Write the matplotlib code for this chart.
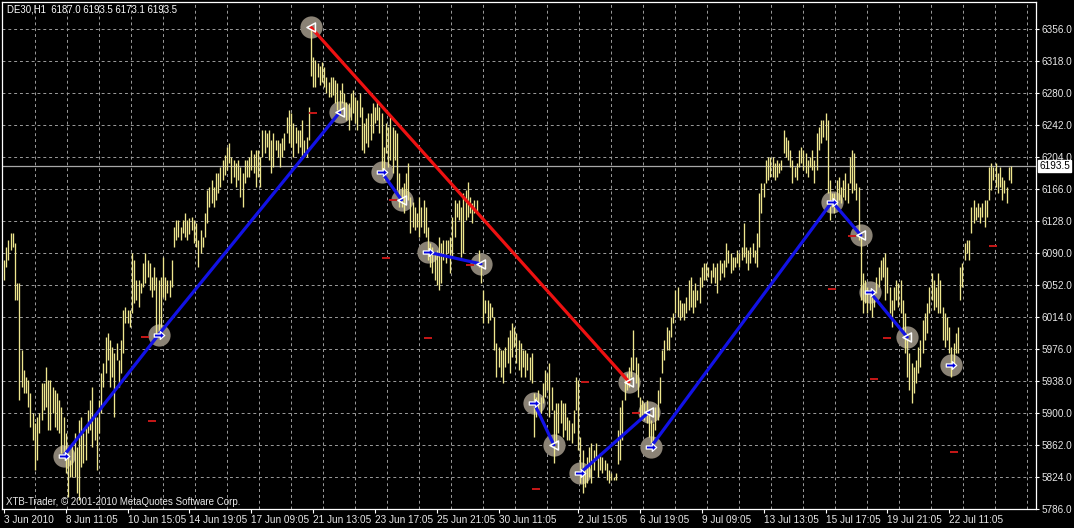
import numpy as np
import matplotlib
matplotlib.use("Agg")
import matplotlib.pyplot as plt
from matplotlib.path import Path

# ---- chart header / footer text ----
symbol_line = "DE30,H1  6187.0 6193.5 6173.1 6193.5"
copyright_line = "XTB-Trader, \u00a9 2001-2010 MetaQuotes Software Corp."
last_price = 6193.5

# ---- hourly bars (high / low) ----
highs = [
    6082, 6097, 6105, 6114, 6114, 6102, 6054, 6054, 5975,
    5951, 5943, 5939, 5924, 5900, 5888, 5895, 5900, 5936, 5936,
    5955, 5939, 5939, 5931, 5927, 5924, 5915, 5907, 5895, 5876,
    5853, 5844, 5864, 5876, 5860, 5892, 5895, 5876, 5883, 5904,
    5915, 5931, 5900, 5895, 5915, 5948, 5959, 5990, 5995, 5987,
    5978, 5971, 5983, 5963, 5987, 6022, 6026, 6022, 6022, 6090,
    6082, 6058, 6058, 6054, 6078, 6090, 6082, 6078, 6062, 6073,
    6062, 6058, 6062, 6085, 6062, 6058, 6058, 6082, 6121, 6129,
    6129, 6121, 6129, 6138, 6129, 6131,
    6133, 6129, 6126, 6105, 6117,
    6109, 6138, 6165, 6168, 6177, 6168, 6185, 6185, 6192, 6200, 6206,
    6216, 6221, 6204, 6200, 6197, 6200, 6192, 6185, 6200, 6200,
    6204, 6212, 6208,
    6212, 6212, 6204, 6236, 6236, 6233, 6236, 6224,
    6233, 6224, 6224, 6221, 6226,
    6233, 6252, 6260, 6256, 6244, 6240,
    6236, 6236, 6248, 6224, 6228, 6263, 6358, 6323, 6319, 6316, 6312,
    6317, 6311, 6299, 6293, 6299, 6299, 6295, 6292, 6284, 6292,
    6280, 6269, 6268, 6280, 6284, 6275, 6272, 6280, 6263, 6244, 6250,
    6256, 6256, 6268, 6263, 6272, 6263, 6256, 6216, 6244, 6240,
    6252, 6240, 6236, 6233, 6185, 6168, 6173, 6185, 6197, 6157, 6150,
    6145, 6138, 6157, 6145, 6153, 6145, 6121, 6102, 6097, 6090,
    6094, 6109, 6102, 6105, 6105, 6105, 6109, 6133, 6153, 6149,
    6153, 6145, 6161, 6165, 6174, 6157, 6149, 6153, 6153, 6094,
    6078, 6046, 6034, 6034, 6031, 6026, 6014, 5983, 5978, 5975,
    5975, 5978, 5990, 5999, 6007, 6002, 5995, 5987, 5983, 5975,
    5975, 5971, 5967, 5971, 5924, 5919, 5927, 5919, 5936, 5951,
    5948, 5959, 5931, 5904, 5912, 5912, 5915, 5912, 5912, 5895,
    5892, 5888, 5904, 5943, 5939, 5872, 5856, 5836, 5848, 5860,
    5864, 5856, 5864, 5848, 5852, 5848, 5844, 5841, 5832, 5829,
    5824, 5829, 5880, 5907, 5915, 5943, 5948, 5955, 5967, 5999,
    5967, 5959, 5919, 5915, 5912, 5915, 5904, 5892, 5888, 5907,
    5927, 5943, 5975, 5987, 6002, 5999, 6014, 6019, 6046,
    6050, 6034, 6031, 6031, 6038, 6058, 6062, 6046, 6054, 6046, 6062,
    6073, 6078, 6078, 6073, 6070, 6078, 6073, 6078, 6082, 6078, 6082,
    6102, 6094, 6090, 6085, 6085, 6094, 6090, 6097, 6126, 6097, 6094,
    6097, 6102, 6094, 6114, 6161, 6173, 6173, 6200, 6204, 6204, 6204,
    6197, 6200, 6197, 6200, 6236, 6228, 6224, 6212, 6200, 6192, 6197,
    6212, 6216, 6212, 6209, 6200, 6204, 6212, 6200, 6233, 6240,
    6248, 6248, 6256, 6248, 6177, 6161, 6161, 6177, 6180, 6168,
    6177, 6185, 6173, 6204, 6212, 6209, 6173, 6168, 6114, 6066,
    6058, 6050, 6046, 6043, 6046, 6062, 6073, 6082, 6085, 6090,
    6073, 6050, 6034, 6050, 6058, 6054, 6058, 6034, 6019, 5995,
    5971, 5959, 5955, 5963, 5978, 5987, 6010, 6019, 6031, 6050,
    6066, 6058, 6050, 6066, 6058, 6026, 6019, 6014, 6002, 5978,
    5983, 5995, 6002, 6073, 6078, 6102, 6105, 6105, 6145, 6153,
    6145, 6149, 6145, 6149, 6153, 6153, 6192, 6197, 6192, 6197,
    6185, 6192, 6180, 6177, 6168, 6192, 6193.5,
]
lows = [
    6058, 6073, 6082, 6094, 6097, 6034, 6034, 5915, 5931,
    5924, 5924, 5907, 5883, 5868, 5832, 5844, 5876, 5892, 5904,
    5907, 5880, 5880, 5900, 5883, 5880, 5876, 5853, 5848, 5829,
    5800, 5824, 5824, 5824, 5805, 5797, 5836, 5841, 5844, 5876,
    5880, 5860, 5868, 5832, 5876, 5900, 5931, 5948, 5963, 5931,
    5943, 5895, 5963, 5931, 5948, 5971, 6007, 6007, 6002, 6019,
    6031, 6034, 6026, 6043, 6050, 6054, 6062, 6046, 6038, 6046,
    5990, 5995, 6002, 6038, 6034, 6043, 6038, 6050, 6097, 6105,
    6109, 6105, 6114, 6109, 6105, 6112,
    6117, 6102, 6097, 6073, 6090,
    6097, 6109, 6126, 6145, 6149, 6145, 6153, 6161, 6168, 6177, 6183,
    6189, 6197, 6173, 6180, 6168, 6177, 6157, 6145, 6173, 6180,
    6180, 6189, 6185,
    6168, 6180, 6168, 6204, 6209, 6216, 6200, 6185,
    6192, 6212, 6204, 6192, 6204,
    6212, 6233, 6221, 6216, 6204, 6221,
    6209, 6216, 6204, 6209, 6204, 6224, 6300, 6287, 6287, 6299, 6290,
    6293, 6287, 6280, 6275, 6275, 6278, 6268, 6260, 6256, 6268,
    6260, 6248, 6236, 6248, 6256, 6244, 6236, 6252, 6212, 6209, 6220,
    6216, 6224, 6233, 6244, 6248, 6233, 6183, 6177, 6209, 6192,
    6200, 6185, 6200, 6165, 6145, 6145, 6138, 6153, 6153, 6114, 6121,
    6117, 6121, 6109, 6121, 6114, 6109, 6082, 6073, 6066, 6058,
    6052, 6046, 6054, 6082, 6078, 6090, 6066, 6085, 6109, 6133,
    6129, 6085, 6090, 6129, 6133, 6138, 6126, 6138, 6138, 6073,
    6054, 6007, 6019, 6007, 6010, 6014, 5975, 5943, 5955, 5943,
    5936, 5955, 5959, 5948, 5967, 5978, 5959, 5951, 5943, 5955,
    5943, 5951, 5939, 5936, 5872, 5895, 5904, 5900, 5912, 5919,
    5927, 5895, 5904, 5841, 5864, 5876, 5888, 5872, 5880, 5868,
    5868, 5864, 5876, 5904, 5856, 5817, 5805, 5812, 5817, 5824,
    5817, 5832, 5844, 5824, 5832, 5829, 5832, 5820, 5817, 5820,
    5820, 5820, 5840, 5844, 5868, 5915, 5927, 5931, 5943, 5951,
    5936, 5919, 5895, 5898, 5892, 5888, 5872, 5858, 5860, 5880,
    5892, 5912, 5948, 5963, 5975, 5975, 5990, 6007, 6019,
    6014, 6010, 6014, 6010, 6019, 6022, 6026, 6019, 6026, 6034, 6031,
    6050, 6058, 6058, 6062, 6054, 6062, 6054, 6043, 6058, 6066, 6062,
    6073, 6078, 6066, 6070, 6073, 6078, 6073, 6082, 6085, 6078, 6070,
    6078, 6085, 6078, 6073, 6097, 6138, 6157, 6173, 6177, 6180, 6180,
    6177, 6180, 6185, 6189, 6209, 6204, 6200, 6192, 6173, 6180, 6177,
    6192, 6197, 6189, 6185, 6180, 6192, 6189, 6173, 6189, 6212,
    6221, 6228, 6224, 6161, 6129, 6145, 6138, 6145, 6153, 6149,
    6157, 6153, 6149, 6173, 6161, 6165, 6153, 6105, 6034, 6019,
    6031, 6019, 6022, 6014, 6026, 6043, 6050, 6058, 6062, 6034,
    6043, 6019, 6002, 6022, 6034, 6026, 6019, 5995, 5971, 5943,
    5927, 5912, 5924, 5936, 5948, 5955, 5971, 5987, 5995, 6019,
    6034, 6022, 6026, 6019, 6019, 5987, 5978, 5987, 5971, 5943,
    5955, 5971, 5971, 6034, 6050, 6082, 6090, 6082, 6114, 6126,
    6129, 6133, 6126, 6133, 6121, 6133, 6153, 6165, 6177, 6168,
    6161, 6168, 6153, 6161, 6149, 6177, 6173.1,
]

# ---- price scale and time scale ----
price_ticks = [5786.0, 5824.0, 5862.0, 5900.0, 5938.0, 5976.0, 6014.0, 6052.0,
               6090.0, 6128.0, 6166.0, 6204.0, 6242.0, 6280.0, 6318.0, 6356.0]
time_tick_bars = [0, 28, 56, 84, 112, 140, 168, 196, 224, 260, 288, 316, 344, 372, 400, 428]
time_tick_labels = ["3 Jun 2010", "8 Jun 11:05", "10 Jun 15:05", "14 Jun 19:05",
                    "17 Jun 09:05", "21 Jun 13:05", "23 Jun 17:05", "25 Jun 21:05",
                    "30 Jun 11:05", "2 Jul 15:05", "6 Jul 19:05", "9 Jul 09:05",
                    "13 Jul 13:05", "15 Jul 17:05", "19 Jul 21:05", "22 Jul 11:05"]

# ---- swing points marked on the chart ----
pivot_bars = [27, 70, 139, 152, 171, 180, 192, 216, 240, 249, 261, 283, 292, 293,
              375, 388, 392, 409, 429]
pivot_prices = [5849, 5993, 6358, 6257, 6186, 6153, 6091, 6077, 5912, 5862, 5829,
                5937, 5901, 5860, 6151, 6111, 6044, 5990, 5957]
pivot_kind = ["buy", "buy", "sell", "sell", "buy", "sell", "buy", "sell", "buy", "sell",
              "buy", "sell", "sell", "buy", "buy", "sell", "buy", "sell", "buy"]
blue_legs = [[0, 1, 3], [4, 5], [6, 7], [8, 9], [10, 12], [13, 14, 15], [16, 17]]
red_legs = [[2, 11]]

# short red level marks
red_mark_bars = [64, 67, 140, 173, 176, 192, 211, 241, 263, 286, 375, 384, 394, 400, 430, 448]
red_mark_prices = [5990, 5891, 6256, 6084, 6153, 5989, 6076, 5810, 5937, 5900, 6047,
                   6110, 5940, 5989, 5854, 6098]

# ---- style ----
BG = "black"
BAR = "#eee68e"
GRID = "#9c9c9c"
TXT = "#e8e8e8"
plt.rcParams["font.family"] = ["Liberation Sans", "DejaVu Sans"]

W, H = 1074, 528
fig = plt.figure(figsize=(W / 100, H / 100), dpi=100, facecolor=BG)
L, R, T, B = 2, 1036, 2, 509
ax = fig.add_axes([L / W, (H - B) / H, (R - L) / W, (B - T) / H], facecolor=BG)

n = len(highs)
x = np.arange(n)
ax.set_xlim(-0.9, 467.3)
ax.set_ylim(5786.0, 6388.0)

# dashed grid
ax.set_yticks(price_ticks)
ax.set_yticklabels([f"{v:.1f}" for v in price_ticks])
ax.grid(axis="y", color=GRID, linestyle=(0, (3, 3)), linewidth=0.7, zorder=0)
grid_px = np.arange(35, R, 32)
ax.vlines((grid_px - L) / (R - L), 0, 1, transform=ax.transAxes, color=GRID,
          linestyle=(0, (3, 3)), linewidth=0.7, zorder=0)

# current price line
ax.axhline(last_price, color="#a8a8a8", linewidth=0.9, zorder=1)

# circles behind bars
ax.plot(pivot_bars, pivot_prices, "o", ms=16, color="#8a8275", mec="none",
        linestyle="none", zorder=2)

# bars
ax.vlines(x, lows, highs, color=BAR, linewidth=0.95, zorder=3)

# trend legs
for leg in blue_legs:
    ax.plot([pivot_bars[i] for i in leg], [pivot_prices[i] for i in leg],
            color="#1212e6", linewidth=2.3, solid_capstyle="round", zorder=4)
for leg in red_legs:
    ax.plot([pivot_bars[i] for i in leg], [pivot_prices[i] for i in leg],
            color="#ee1111", linewidth=2.3, solid_capstyle="round", zorder=4)

# red level marks
ax.plot(red_mark_bars, red_mark_prices, marker="_", ms=6, mew=1.4, color="#c81818",
        linestyle="none", zorder=3.5)

# arrow symbols at swing points
arrow_right = Path([(-1, -0.3), (0.15, -0.3), (0.15, -0.75), (1, 0), (0.15, 0.75),
                    (0.15, 0.3), (-1, 0.3), (-1, -0.3)],
                   [Path.MOVETO] + [Path.LINETO] * 6 + [Path.CLOSEPOLY])
arrow_left = Path([(0.7, -0.8), (0.7, 0.8), (-0.8, 0), (0.7, -0.8)],
                  [Path.MOVETO, Path.LINETO, Path.LINETO, Path.CLOSEPOLY])
bx = [b for b, k in zip(pivot_bars, pivot_kind) if k == "buy"]
by = [p for p, k in zip(pivot_prices, pivot_kind) if k == "buy"]
sx = [b for b, k in zip(pivot_bars, pivot_kind) if k == "sell"]
sy = [p for p, k in zip(pivot_prices, pivot_kind) if k == "sell"]
ax.plot(bx, by, marker=arrow_right, ms=7.5, mfc="#0000e0", mec="white", mew=0.9,
        linestyle="none", zorder=5)
ax.plot(sx, sy, marker=arrow_left, ms=6.5, mfc="none", mec="white", mew=1.1,
        linestyle="none", zorder=5)

# axes frame and ticks
for s in ax.spines.values():
    s.set_color("white")
    s.set_linewidth(0.9)
ax.yaxis.tick_right()
ax.tick_params(axis="y", colors="white", labelcolor=TXT, length=2.5, width=0.8,
               pad=1.8, labelsize=7.2)
ax.set_xticks(time_tick_bars)
ax.set_xticklabels(time_tick_labels, ha="left")
ax.tick_params(axis="x", colors="white", labelcolor=TXT, length=3, width=0.8,
               pad=1.0, labelsize=7.2)

# last price box on the price scale
ax.annotate(f"{last_price:.1f}", xy=(1.0, last_price), xycoords=("axes fraction", "data"),
            xytext=(2.2, 0), textcoords="offset points", ha="left", va="center",
            fontsize=7.2, color="black", annotation_clip=False, zorder=10,
            bbox=dict(boxstyle="square,pad=0.12", fc="white", ec="white"))

fig.text(7 / W, 1 - 10 / H, symbol_line, color="white", fontsize=6.9, ha="left", va="center")
fig.text(6 / W, 1 - 502 / H, copyright_line, color=TXT, fontsize=7.0, ha="left", va="center")

fig.savefig("out.png", dpi=100, facecolor=BG)
